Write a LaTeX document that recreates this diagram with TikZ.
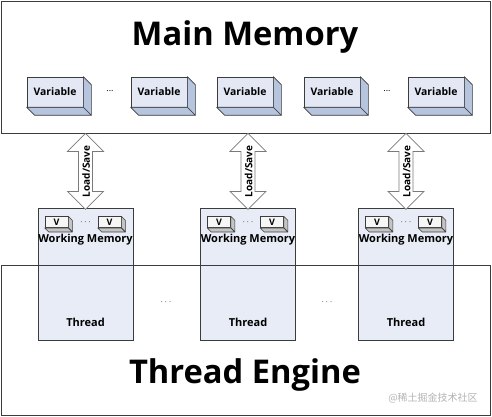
\documentclass[tikz,border=0pt]{standalone}
\usepackage{fontspec}
\setmainfont{Open Sans}
\newfontfamily\cjkfont{Noto Sans CJK SC}
\definecolor{framegray}{HTML}{3C3C3C}
\definecolor{varfront}{HTML}{E3E8F4}
\definecolor{varside}{HTML}{B6C4DD}
\definecolor{vfront}{HTML}{F6F6F6}
\definecolor{vside}{HTML}{C4C4C4}
\definecolor{threadfill}{HTML}{E8ECF6}
\definecolor{arrowgray}{HTML}{7A7A7A}
\definecolor{markgray}{HTML}{B4B4B4}
\newcommand{\extrude}[3]{%
  \filldraw[fill=#3,draw=framegray,line width=0.6pt,line join=round]
    (#1.north east) -- ([shift={(#2,#2)}]#1.north east) -- ([shift={(#2,#2)}]#1.south east) -- (#1.south east) -- cycle;
  \filldraw[fill=#3,draw=framegray,line width=0.6pt,line join=round]
    (#1.south west) -- (#1.south east) -- ([shift={(#2,#2)}]#1.south east) -- ([shift={(#2,#2)}]#1.south west) -- cycle;}
\newcommand{\loadsave}[2]{%
  \coordinate (#1) at (#2.north |- mm.south);
  \filldraw[fill=white,draw=arrowgray,line width=0.7pt,line join=miter]
    (#1) -- ++(18,18) -- ++(-11,0) -- ++(0,40) -- ++(11,0) -- ++(-18,18) -- ++(-18,-18) -- ++(11,0) -- ++(0,-40) -- ++(-11,0) -- cycle;
  \node[arrowlabel] at ([shift={(0.5,38)}]#1) {Load/Save};}
\tikzset{
  frame/.style={draw=framegray, line width=0.8pt},
  varbox/.style={draw=framegray, fill=varfront, line width=0.6pt, minimum width=56, minimum height=30, inner sep=0, font=\bfseries\fontsize{10.4}{12}\selectfont},
  vbox/.style={draw=framegray, fill=vfront, line width=0.6pt, minimum width=23, minimum height=11, inner sep=0, font=\bfseries\fontsize{9}{10}\selectfont},
  threadbox/.style={draw=framegray, fill=threadfill, line width=0.7pt, minimum width=95, minimum height=132, inner sep=0},
  small/.style={font=\bfseries\fontsize{11}{12}\selectfont, inner sep=0},
  title/.style={font=\bfseries\fontsize{32.7}{38}\selectfont, inner sep=0},
  dots/.style={font=\fontsize{9}{10}\selectfont, inner sep=0},
  arrowlabel/.style={font=\bfseries\fontsize{10}{11}\selectfont, rotate=90, inner sep=0},
}
\begin{document}
\begin{tikzpicture}[x=1pt,y=-1pt]
\useasboundingbox (0,0) rectangle (492,417);
\fill[white] (0,0) rectangle (492,417);
% Main memory
\node[frame, minimum width=489, minimum height=132, inner sep=0] (mm) at (245.5,67) {};
\node[title] (mmt) at (245,37) {Main Memory};
\foreach \n/\x in {v1/55, v2/159, v3/245, v4/332, v5/436}{
  \node[varbox] (\n) at (\x,92) {Variable};
  \extrude{\n}{8}{varside}
}
\node[dots] (md1) at (110,91) {...};
\node[dots] (md2) at (387,91) {...};
% Threads
\foreach \t/\x in {t1/85.5, t2/248, t3/406}{
  \node[threadbox] (\t) at (\x,274) {};
  \node[vbox] (\t v1) at ([shift={(-29,14.5)}]\t.north) {V};
  \extrude{\t v1}{4}{vside}
  \node[vbox] (\t v2) at ([shift={(24,14.5)}]\t.north) {V};
  \extrude{\t v2}{4}{vside}
  \node[dots] (\t d) at ([shift={(0,15)}]\t.north) {$\cdots$};
  \node[small] (\t wm) at ([shift={(0,32)}]\t.north) {Working Memory};
  \node[small] (\t th) at ([shift={(0,-18)}]\t.south) {Thread};
}
% Thread engine
\node[frame, minimum width=489, minimum height=150, inner sep=0] (te) at (245.5,340) {};
\node[title] (tet) at (245,375) {Thread Engine};
\node[dots] (td1) at (166,302) {$\cdots$};
\node[dots] (td2) at (327,302) {$\cdots$};
% arrows
\loadsave{a1}{t1}
\loadsave{a2}{t2}
\loadsave{a3}{t3}
\node[text=markgray, font=\cjkfont\fontsize{10}{12}\selectfont, inner sep=0] (wm) at (433,398) {@稀土掘金技术社区};
\end{tikzpicture}
\end{document}
